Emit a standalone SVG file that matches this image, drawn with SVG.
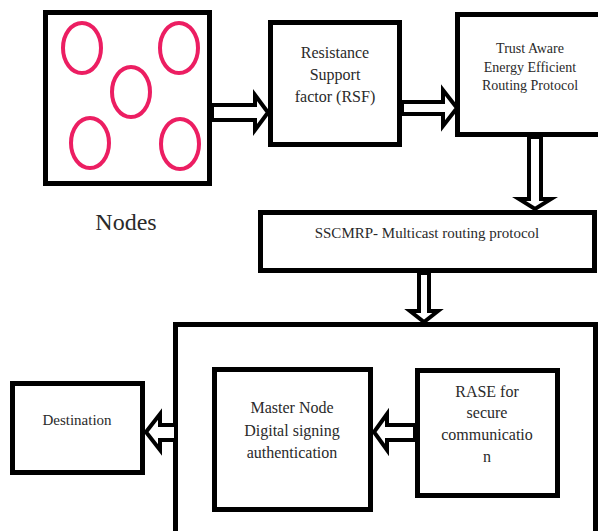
<svg xmlns="http://www.w3.org/2000/svg" width="598" height="531" viewBox="0 0 598 531">
  <style>
    .box { fill: #fff; stroke: #000; stroke-width: 5; }
    .node { fill: none; stroke: #ec1e62; stroke-width: 4; }
    .arrow { fill: #fff; stroke: #000; stroke-width: 4; stroke-linejoin: miter; }
    .lbl { fill: #2a2a2a; text-anchor: middle; font-family: "Liberation Serif", serif !important; }
  </style>
  <rect width="598" height="531" fill="#fff"/>

  <!-- outer container for the secure stage -->
  <g id="secure-stage">
    <rect class="box" x="175.5" y="324.5" width="420" height="300"/>
  </g>

  <g id="nodes">
    <rect class="box" x="45.5" y="12.5" width="164" height="171"/>
    <ellipse class="node" cx="82" cy="48" rx="19" ry="25"/>
    <ellipse class="node" cx="179" cy="48" rx="19" ry="25"/>
    <ellipse class="node" cx="131" cy="92" rx="19" ry="25"/>
    <ellipse class="node" cx="90" cy="143" rx="19" ry="25"/>
    <ellipse class="node" cx="180" cy="144" rx="19" ry="25"/>
    <text class="lbl" style="font-family:'Liberation Serif',serif !important" x="126" y="230" font-size="24">Nodes</text>
  </g>

  <g id="rsf">
    <rect class="box" x="270.5" y="22.5" width="129" height="122"/>
    <text class="lbl" style="font-family:'Liberation Serif',serif !important" font-size="16" x="335" y="58">Resistance</text>
    <text class="lbl" style="font-family:'Liberation Serif',serif !important" font-size="16" x="335" y="80">Support</text>
    <text class="lbl" style="font-family:'Liberation Serif',serif !important" font-size="16" x="335" y="102">factor (RSF)</text>
  </g>

  <g id="taeerp">
    <rect class="box" x="457.5" y="14.5" width="150" height="120"/>
    <text class="lbl" style="font-family:'Liberation Serif',serif !important" font-size="14" x="530" y="53">Trust Aware</text>
    <text class="lbl" style="font-family:'Liberation Serif',serif !important" font-size="14" x="530" y="72">Energy Efficient</text>
    <text class="lbl" style="font-family:'Liberation Serif',serif !important" font-size="14" x="530" y="90">Routing Protocol</text>
  </g>

  <g id="sscmrp">
    <rect class="box" x="260.5" y="212.5" width="334" height="58"/>
    <text class="lbl" style="font-family:'Liberation Serif',serif !important" font-size="15" x="427" y="238">SSCMRP- Multicast routing protocol</text>
  </g>

  <g id="destination">
    <rect class="box" x="12.5" y="383.5" width="130" height="89"/>
    <text class="lbl" style="font-family:'Liberation Serif',serif !important" font-size="15" x="77" y="425">Destination</text>
  </g>

  <g id="master-node">
    <rect class="box" x="214.5" y="369.5" width="156" height="140"/>
    <text class="lbl" style="font-family:'Liberation Serif',serif !important" font-size="16" x="292" y="413">Master Node</text>
    <text class="lbl" style="font-family:'Liberation Serif',serif !important" font-size="16" x="292" y="436">Digital signing</text>
    <text class="lbl" style="font-family:'Liberation Serif',serif !important" font-size="16" x="292" y="458">authentication</text>
  </g>

  <g id="rase">
    <rect class="box" x="417.5" y="370.5" width="140" height="125"/>
    <text class="lbl" style="font-family:'Liberation Serif',serif !important" font-size="16" x="487" y="397">RASE for</text>
    <text class="lbl" style="font-family:'Liberation Serif',serif !important" font-size="16" x="487" y="418">secure</text>
    <text class="lbl" style="font-family:'Liberation Serif',serif !important" font-size="16" x="487" y="440">communicatio</text>
    <text class="lbl" style="font-family:'Liberation Serif',serif !important" font-size="16" x="487" y="462">n</text>
  </g>

  <!-- hollow block arrows between the stages -->
  <g id="connectors">
    <path class="arrow" d="M212,105 H255 V95 L268,112.5 L255,130 V120 H212 Z"/>
    <path class="arrow" d="M402,102 H443 V90 L457,108 L443,126 V114 H402 Z"/>
    <path class="arrow" d="M529,137 V199 H519 L535,209 L551,199 H541 V137 Z"/>
    <path class="arrow" d="M419,273 V311 H410 L424,322 L438,311 H429 V273 Z"/>
    <path class="arrow" d="M176,425 H160 V414 L146,432 L160,450 V440 H176 Z"/>
    <path class="arrow" d="M415,425 H387 V414 L374,432 L387,450 V440 H415 Z"/>
  </g>
</svg>
